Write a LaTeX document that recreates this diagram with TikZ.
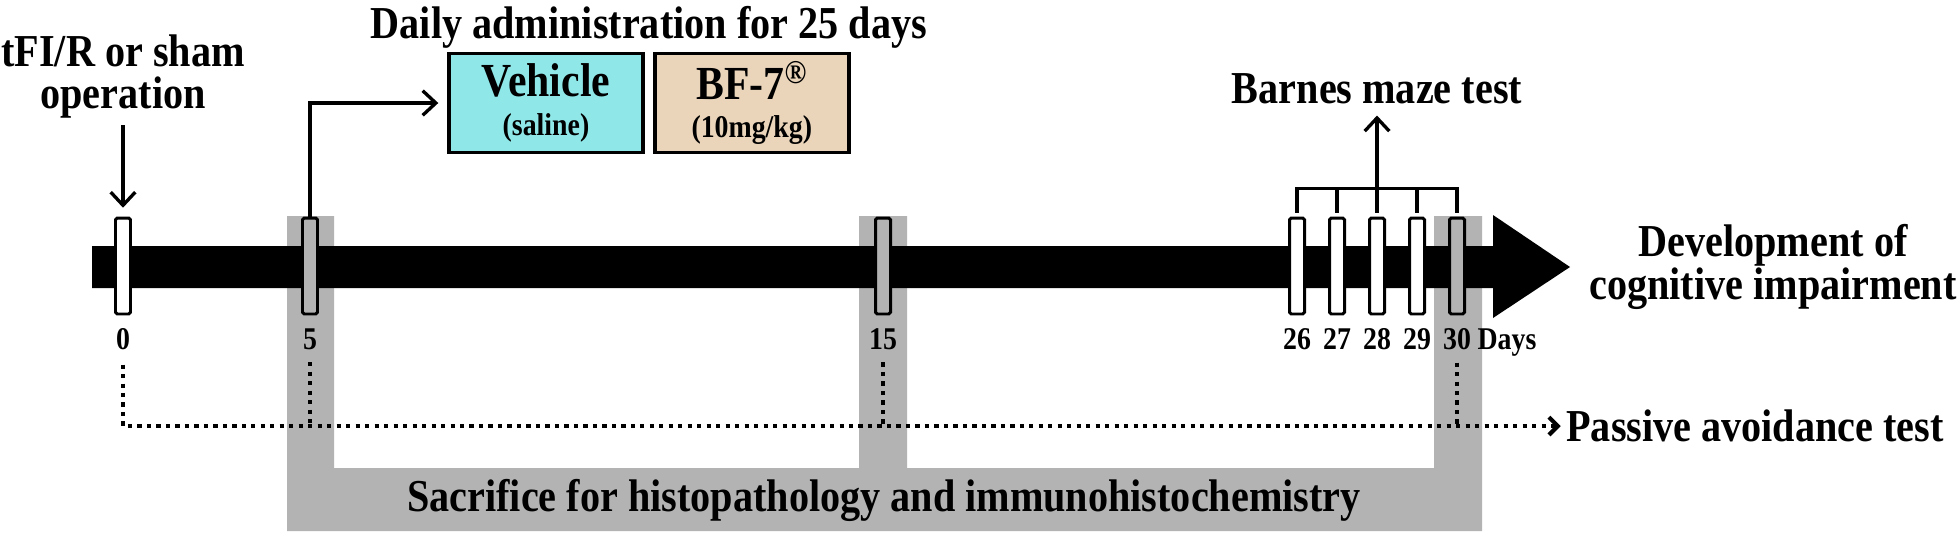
\documentclass[tikz,border=0pt]{standalone}
\usepackage{fontspec}
\setmainfont{Liberation Serif}[FakeStretch=0.88]
\usepackage{tikz}
\usetikzlibrary{positioning}
\usetikzlibrary{calc}
\usetikzlibrary{arrows.meta}
\definecolor{vehcol}{RGB}{143,231,232}
\definecolor{bfcol}{RGB}{234,213,187}
\definecolor{sacgray}{RGB}{179,179,179}
\newcommand\smallbf{\fontsize{18}{20}\selectfont}
\tikzset{daybox/.style={draw,line width=1.7pt,rounded corners=1pt,minimum width=0.3cm,minimum height=1.92cm,inner sep=0pt,fill=white},
daylabel/.style={font=\fontsize{18}{20}\selectfont\bfseries,inner sep=0pt},
bigtext/.style={font=\fontsize{26}{24}\selectfont\bfseries,inner sep=0pt},
drugbox/.style={draw,line width=2.2pt,minimum width=3.88cm,minimum height=1.98cm,align=center,inner sep=0pt,font=\fontsize{27}{22}\selectfont\bfseries},
arr/.style={line width=1.9pt,-{Straight Barb[length=7.5pt,width=14pt]}},
brk/.style={line width=1.9pt},
dotline/.style={line width=2.4pt,dash pattern=on 2.4pt off 3pt}}

\begin{document}
\begin{tikzpicture}[x=0.02cm,y=-0.02cm]
\useasboundingbox (0,0) rectangle (1958,538);

% sacrifice days
\fill[sacgray] (287,216) -- (334,216) -- (334,468) -- (859,468) -- (859,216) -- (907,216) -- (907,468) -- (1434,468) -- (1434,216) -- (1482,216) -- (1482,531) -- (287,531) -- cycle;
\node (sac) at (884,500) [bigtext] {Sacrifice for histopathology and immunohistochemistry};

% time axis
\fill (92,246) -- (1493,246) -- (1493,215) -- (1570,267) -- (1493,318) -- (1493,288) -- (92,288) -- cycle;
\coordinate (tip) at (1570,267);

\foreach \d/\x/\col in {0/123/white,5/310/sacgray,15/883/sacgray,26/1297/white,27/1337/white,28/1377/white,29/1417/white,30/1457/sacgray} {
  \node (m\d) at (\x,266) [daybox,fill=\col] {};
  \node (l\d) [daylabel,below=0.26cm of m\d] {\d};
}
\node (days) [daylabel,base right=0.12cm of l30] {Days};

% operation
\node (op) at (123,34) [bigtext,anchor=north,align=center] {tFI/R or sham\\operation};
\draw[arr,shorten <=4pt,shorten >=5pt] (op.south) -- (m0.north);

% drugs
\node (veh) at (546,103) [drugbox,fill=vehcol] {Vehicle\\{\smallbf (saline)}};
\node (bf) [drugbox,fill=bfcol,right=0.16cm of veh] {BF-7\textsuperscript{\textregistered}\\{\smallbf (10mg/kg)}};
\coordinate (dtop) at ($(veh.north east)!0.5!(bf.north west)$);
\node (daily) [bigtext,above=0.06cm of dtop] {Daily administration for 25 days};
\draw[arr,shorten >=5pt] (m5.north) |- (veh.west);

% barnes maze
\draw[brk] ($(m26.north)+(0,-4)$) -- ++(0,-24) -| ($(m30.north)+(0,-4)$);
\foreach \d in {27,28,29}
  \draw[brk] ($(m\d.north)+(0,-4)$) -- ++(0,-24);
\draw[arr] ($(m28.north)+(0,-28)$) -- ++(0,-73) coordinate (bt);
\node (barnes) [bigtext,above=0.22cm of bt] {Barnes maze test};

\node (dev) [bigtext,align=center,right=0.38cm of tip] {Development of\\cognitive impairment};

% passive avoidance
\node (pa) at (1566,426) [bigtext,anchor=west] {Passive avoidance test};
\draw[dotline,-{Straight Barb[length=5pt,width=10pt]},shorten >=3pt] ($(l0.south)+(0,14)$) |- (pa.west);
\foreach \d in {5,15,30}
  \draw[dotline] ($(l\d.south)+(0,12)$) -- (l\d.south |- pa.west);

\end{tikzpicture}
\end{document}
